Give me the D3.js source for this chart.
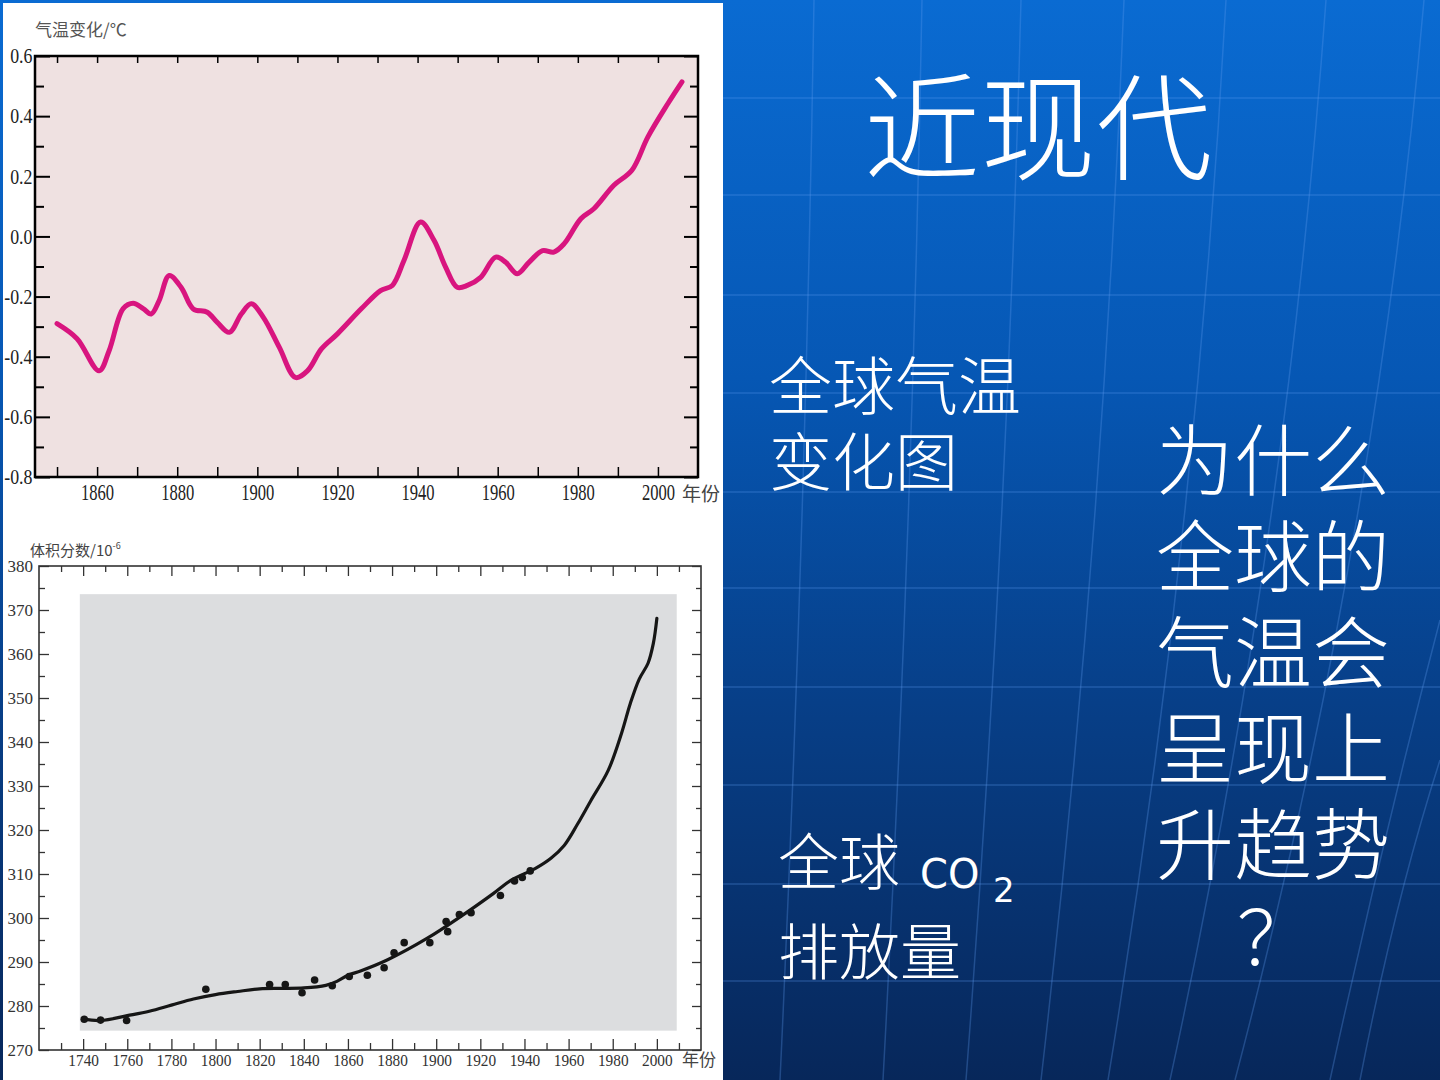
<!DOCTYPE html>
<html>
<head>
<meta charset="utf-8">
<script src="https://cdn.jsdelivr.net/npm/d3@7"></script>
<style>
  body { margin: 0; background: #0a4fa6; }
  svg { display: block; }
</style>
</head>
<body>
<div class="chart"></div>
<script>

// global temperature change (top chart)
var tempYears = [1850, 1855, 1860.5, 1863, 1866.5, 1869, 1871.5, 1873.5, 1875.5, 1878, 1881, 1884,
  1887.5, 1890, 1893, 1896, 1898.5, 1901.5, 1905.5, 1909.5, 1912.5, 1916, 1920, 1926, 1930.75, 1933.7,
  1936.6, 1940.75, 1944.1, 1947, 1949.9, 1952.4, 1955.75, 1959.5, 1962, 1964.9, 1967.8, 1971.2, 1974,
  1976.6, 1980.75, 1984, 1989, 1993.5, 1997.5, 2002.5, 2006];
var tempValues = [-0.29, -0.34, -0.447, -0.38, -0.24, -0.222, -0.24, -0.258, -0.213, -0.13, -0.17, -0.241,
  -0.252, -0.286, -0.319, -0.258, -0.224, -0.269, -0.369, -0.469, -0.447, -0.374, -0.324, -0.24, -0.18, -0.163,
  -0.08, 0.048, -0.013, -0.102, -0.169, -0.163, -0.136, -0.069, -0.086, -0.124, -0.086, -0.047, -0.052,
  -0.024, 0.059, 0.092, 0.17, 0.22, 0.331, 0.442, 0.514];
var tempTicks = [-0.8, -0.6, -0.4, -0.2, 0, 0.2, 0.4, 0.6];
var tempMinorTicks = [-0.7, -0.5, -0.3, -0.1, 0.1, 0.3, 0.5];
var tempYearTicks = [1850, 1860, 1870, 1880, 1890, 1900, 1910, 1920, 1930, 1940, 1950, 1960, 1970, 1980, 1990, 2000];
var tempYearLabels = [1860, 1880, 1900, 1920, 1940, 1960, 1980, 2000];

// CO2 volume fraction (bottom chart)
var co2Years = [1740, 1748, 1760, 1770, 1780, 1790, 1800, 1810, 1820, 1830, 1840, 1850, 1855, 1860,
  1866, 1878, 1896, 1911, 1926, 1934, 1945, 1952, 1958, 1964, 1970, 1978, 1984, 1988, 1992, 1996,
  1998.4, 2000];
var co2Values = [277.0, 276.7, 277.8, 278.8, 280.2, 281.6, 282.6, 283.3, 283.9, 284.0, 284.1, 284.7, 285.6, 287.0,
  288.0, 290.5, 295.4, 300.3, 305.6, 308.6, 311.3, 313.6, 316.5, 321.3, 326.6, 333.6, 342.0, 348.8, 354.3, 357.9,
  362.4, 368.1];
var co2DotYears = [1740.5, 1747.9, 1759.7, 1795.6, 1824.5, 1831.6, 1839.2, 1844.9, 1852.9, 1860.6, 1868.8,
  1876.4, 1880.9, 1885.5, 1897.1, 1904.5, 1905.2, 1910.5, 1915.8, 1929.1, 1935.5, 1939, 1942.6];
var co2DotValues = [277.0, 276.8, 276.7, 283.8, 284.9, 284.9, 283.0, 285.9, 284.6, 286.7, 287.0,
  288.7, 292.1, 294.4, 294.4, 299.2, 296.9, 300.8, 301.2, 305.1, 308.4, 309.2, 310.7];
var co2Ticks = [270, 280, 290, 300, 310, 320, 330, 340, 350, 360, 370, 380];
var co2MinorTicks = [275, 285, 295, 305, 315, 325, 335, 345, 355, 365, 375];
var co2YearTicks = [1730, 1750, 1770, 1790, 1810, 1830, 1850, 1870, 1890, 1910, 1930, 1950, 1970, 1990, 2010];
var co2YearLabels = [1740, 1760, 1780, 1800, 1820, 1840, 1860, 1880, 1900, 1920, 1940, 1960, 1980, 2000];

// slide text
var slideTitle = "近现代";
var tempCaption = ["全球气温", "变化图"];
var co2Caption = ["全球", "排放量"];
var question = ["为什么", "全球的", "气温会", "呈现上", "升趋势"];

var W = 1440, H = 1080;
var serif = '"Liberation Serif", "DejaVu Serif", serif';
var cjk = '"Noto Sans CJK SC", "Noto Sans CJK TC", sans-serif';

var svg = d3.select(".chart")
  .append("svg")
  .attr("width", W)
  .attr("height", H);

// background of the slide
var defs = svg.append("defs");
var grad = defs.append("linearGradient")
  .attr("id", "bg")
  .attr("x1", 0).attr("y1", 0).attr("x2", 0).attr("y2", 1);
grad.append("stop").attr("offset", "0").attr("stop-color", "#0a6bd2");
grad.append("stop").attr("offset", "0.35").attr("stop-color", "#0657b4");
grad.append("stop").attr("offset", "0.65").attr("stop-color", "#073f88");
grad.append("stop").attr("offset", "1").attr("stop-color", "#07275a");

svg.append("rect")
  .attr("width", W).attr("height", H)
  .attr("fill", "url(#bg)");

// faint globe grid
var deco = svg.append("g")
  .attr("fill", "none")
  .attr("stroke", "#5f9cf0")
  .attr("stroke-opacity", 0.3)
  .attr("stroke-width", 1.5);
[98, 195, 295, 393, 492, 588, 687, 785, 884, 981].forEach(function(y) {
  deco.append("line").attr("x1", 723).attr("x2", W).attr("y1", y).attr("y2", y);
});
[[814, 780], [922, 883], [1021, 966], [1124, 1041], [1226, 1108], [1326, 1170], [1424, 1235]].forEach(function(p) {
  var mid = (p[0] + p[1]) / 2 + (p[0] - p[1]) * 0.25;
  deco.append("path").attr("d", "M" + p[0] + ",0 Q" + mid + ",540 " + p[1] + "," + H);
});
deco.append("path").attr("d", "M1440,760 Q1395,900 1360," + H);
deco.append("path").attr("d", "M1440,620 Q1380,850 1330," + H);

// white picture panel
svg.append("rect")
  .attr("x", 3).attr("y", 3)
  .attr("width", 720).attr("height", H - 3)
  .attr("fill", "#ffffff");

// ---------------- temperature chart ----------------
var t = {left: 35, right: 698, top: 56, bottom: 477};
var tx = d3.scaleLinear().domain([1844.5, 2010]).range([t.left, t.right]);
var ty = d3.scaleLinear().domain([-0.8, 0.6]).range([t.bottom, t.top]);

var tempChart = svg.append("g");

tempChart.append("rect")
  .attr("x", tx(1844.5)).attr("y", ty(0.6))
  .attr("width", tx(2010) - tx(1844.5))
  .attr("height", ty(-0.8) - ty(0.6))
  .attr("fill", "#efe1e1");

function styleAxis(g, color, width) {
  g.select(".domain").remove();
  g.attr("font-family", serif).attr("fill", null);
  g.selectAll("line").attr("stroke", color).attr("stroke-width", width);
}

// left
tempChart.append("g")
  .attr("transform", "translate(" + t.left + ",0)")
  .call(d3.axisLeft(ty).tickValues(tempTicks).tickSize(-15).tickPadding(3)
    .tickFormat(function(d) { return d.toFixed(1); }))
  .call(styleAxis, "#000", 2)
  .call(function(g) {
    g.selectAll("text")
      .attr("font-size", 21)
      .attr("fill", "#222")
      .attr("transform", "scale(0.85,1)");
  });
tempChart.append("g")
  .attr("transform", "translate(" + t.left + ",0)")
  .call(d3.axisLeft(ty).tickValues(tempMinorTicks).tickSize(-9).tickFormat(""))
  .call(styleAxis, "#000", 2);
// right
tempChart.append("g")
  .attr("transform", "translate(" + t.right + ",0)")
  .call(d3.axisRight(ty).tickValues(tempTicks).tickSize(-14).tickFormat(""))
  .call(styleAxis, "#000", 2);
tempChart.append("g")
  .attr("transform", "translate(" + t.right + ",0)")
  .call(d3.axisRight(ty).tickValues(tempMinorTicks).tickSize(-8).tickFormat(""))
  .call(styleAxis, "#000", 2);
// bottom
tempChart.append("g")
  .attr("transform", "translate(0," + t.bottom + ")")
  .call(d3.axisBottom(tx).tickValues(tempYearTicks).tickSize(-10).tickPadding(7)
    .tickFormat(function(d) { return tempYearLabels.indexOf(d) >= 0 ? d : ""; }))
  .call(styleAxis, "#000", 1.5)
  .call(function(g) {
    g.selectAll("text")
      .attr("font-size", 23)
      .attr("fill", "#222")
      .attr("transform", "scale(0.72,1)");
  });
// top
tempChart.append("g")
  .attr("transform", "translate(0," + t.top + ")")
  .call(d3.axisTop(tx).tickValues(tempYearTicks).tickSize(-7).tickFormat(""))
  .call(styleAxis, "#000", 1.5);

tempChart.append("rect")
  .attr("x", t.left).attr("y", t.top)
  .attr("width", t.right - t.left).attr("height", t.bottom - t.top)
  .attr("fill", "none")
  .attr("stroke", "#000")
  .attr("stroke-width", 2.5);

var tempLine = d3.line()
  .x(function(d) { return tx(d[0]); })
  .y(function(d) { return ty(d[1]); })
  .curve(d3.curveCatmullRom.alpha(0.5));

tempChart.append("path")
  .datum(tempYears.map(function(y, i) { return [y, tempValues[i]]; }))
  .attr("d", tempLine)
  .attr("fill", "none")
  .attr("stroke", "#d8157f")
  .attr("stroke-width", 5)
  .attr("stroke-linecap", "round")
  .attr("stroke-linejoin", "round");

tempChart.append("text")
  .attr("x", 35).attr("y", 36)
  .attr("font-family", cjk).attr("font-size", 17)
  .attr("fill", "#555")
  .text("气温变化/℃");
tempChart.append("text")
  .attr("x", 682).attr("y", 501)
  .attr("font-family", cjk).attr("font-size", 19)
  .attr("fill", "#444")
  .text("年份");

// ---------------- CO2 chart ----------------
var c = {left: 39, right: 701, top: 566, bottom: 1050};
var cx = d3.scaleLinear().domain([1720, 2020]).range([c.left, c.right]);
var cy = d3.scaleLinear().domain([270, 380]).range([c.bottom, c.top]);

var co2Chart = svg.append("g");

co2Chart.append("rect")
  .attr("x", cx(1738.5)).attr("y", cy(373.6))
  .attr("width", cx(2009) - cx(1738.5))
  .attr("height", cy(274.4) - cy(373.6))
  .attr("fill", "#dcdddf");

var axisColor = "#333";
co2Chart.append("g")
  .attr("transform", "translate(" + c.left + ",0)")
  .call(d3.axisLeft(cy).tickValues(co2Ticks).tickSize(-10).tickPadding(6).tickFormat(d3.format("d")))
  .call(styleAxis, axisColor, 1.3)
  .call(function(g) {
    g.selectAll("text").attr("font-size", 17).attr("fill", "#333");
  });
co2Chart.append("g")
  .attr("transform", "translate(" + c.left + ",0)")
  .call(d3.axisLeft(cy).tickValues(co2MinorTicks).tickSize(-6).tickFormat(""))
  .call(styleAxis, axisColor, 1.3);
co2Chart.append("g")
  .attr("transform", "translate(" + c.right + ",0)")
  .call(d3.axisRight(cy).tickValues(co2Ticks).tickSize(-9).tickFormat(""))
  .call(styleAxis, axisColor, 1.3);
co2Chart.append("g")
  .attr("transform", "translate(" + c.right + ",0)")
  .call(d3.axisRight(cy).tickValues(co2MinorTicks).tickSize(-5).tickFormat(""))
  .call(styleAxis, axisColor, 1.3);

co2Chart.append("g")
  .attr("transform", "translate(0," + c.bottom + ")")
  .call(d3.axisBottom(cx).tickValues(co2YearLabels).tickSize(-11).tickPadding(4).tickFormat(d3.format("d")))
  .call(styleAxis, axisColor, 1.3)
  .call(function(g) {
    g.selectAll("text")
      .attr("font-size", 17)
      .attr("fill", "#333")
      .attr("transform", "scale(0.9,1)");
  });
co2Chart.append("g")
  .attr("transform", "translate(0," + c.bottom + ")")
  .call(d3.axisBottom(cx).tickValues(co2YearTicks).tickSize(-7).tickFormat(""))
  .call(styleAxis, axisColor, 1.3);
co2Chart.append("g")
  .attr("transform", "translate(0," + c.top + ")")
  .call(d3.axisTop(cx).tickValues(co2YearLabels).tickSize(-10).tickFormat(""))
  .call(styleAxis, axisColor, 1.3);
co2Chart.append("g")
  .attr("transform", "translate(0," + c.top + ")")
  .call(d3.axisTop(cx).tickValues(co2YearTicks).tickSize(-6).tickFormat(""))
  .call(styleAxis, axisColor, 1.3);

co2Chart.append("rect")
  .attr("x", c.left).attr("y", c.top)
  .attr("width", c.right - c.left).attr("height", c.bottom - c.top)
  .attr("fill", "none")
  .attr("stroke", axisColor)
  .attr("stroke-width", 1.6);

var co2Line = d3.line()
  .x(function(d) { return cx(d[0]); })
  .y(function(d) { return cy(d[1]); })
  .curve(d3.curveCatmullRom.alpha(0.5));

co2Chart.append("path")
  .datum(co2Years.map(function(y, i) { return [y, co2Values[i]]; }))
  .attr("d", co2Line)
  .attr("fill", "none")
  .attr("stroke", "#161616")
  .attr("stroke-width", 3.2)
  .attr("stroke-linecap", "round");

co2Chart.selectAll(".dot")
  .data(co2DotYears.map(function(y, i) { return [y, co2DotValues[i]]; }))
  .enter()
  .append("circle")
  .attr("class", "dot")
  .attr("cx", function(d) { return cx(d[0]); })
  .attr("cy", function(d) { return cy(d[1]); })
  .attr("r", 3.8)
  .attr("fill", "#161616");

var co2Title = co2Chart.append("text")
  .attr("x", 30).attr("y", 556)
  .attr("font-family", cjk).attr("font-size", 15)
  .attr("fill", "#444");
co2Title.append("tspan").text("体积分数/10");
co2Title.append("tspan")
  .attr("dy", -7)
  .attr("font-size", 9)
  .text("-6");
co2Chart.append("text")
  .attr("x", 682).attr("y", 1066)
  .attr("font-family", cjk).attr("font-size", 17)
  .attr("fill", "#444")
  .text("年份");

// ---------------- slide text ----------------
var txt = svg.append("g")
  .attr("fill", "#ffffff")
  .attr("font-family", cjk)
  .attr("font-weight", 300);

txt.append("text")
  .attr("x", 864).attr("y", 171)
  .attr("font-size", 116)
  .text(slideTitle);

txt.selectAll(".cap1")
  .data(tempCaption)
  .enter()
  .append("text")
  .attr("x", 769)
  .attr("y", function(d, i) { return 409 + i * 76; })
  .attr("font-size", 63)
  .text(function(d) { return d; });

txt.selectAll(".q")
  .data(question)
  .enter()
  .append("text")
  .attr("x", 1156)
  .attr("y", function(d, i) { return 490 + i * 96; })
  .attr("font-size", 78)
  .text(function(d) { return d; });
txt.append("text")
  .attr("x", 1275).attr("y", 966)
  .attr("text-anchor", "middle")
  .attr("font-size", 76)
  .text("？");

txt.append("text")
  .attr("x", 778).attr("y", 885)
  .attr("font-size", 61)
  .text(co2Caption[0]);
txt.append("text")
  .attr("x", 920).attr("y", 888)
  .attr("font-family", '"DejaVu Sans", Verdana, sans-serif')
  .attr("font-weight", 400)
  .attr("font-size", 40)
  .text("CO");
txt.append("text")
  .attr("x", 993).attr("y", 902)
  .attr("font-family", '"DejaVu Sans", Verdana, sans-serif')
  .attr("font-weight", 400)
  .attr("font-size", 34)
  .text("2");
txt.append("text")
  .attr("x", 778).attr("y", 975)
  .attr("font-size", 61)
  .text(co2Caption[1]);

</script>
</body>
</html>
